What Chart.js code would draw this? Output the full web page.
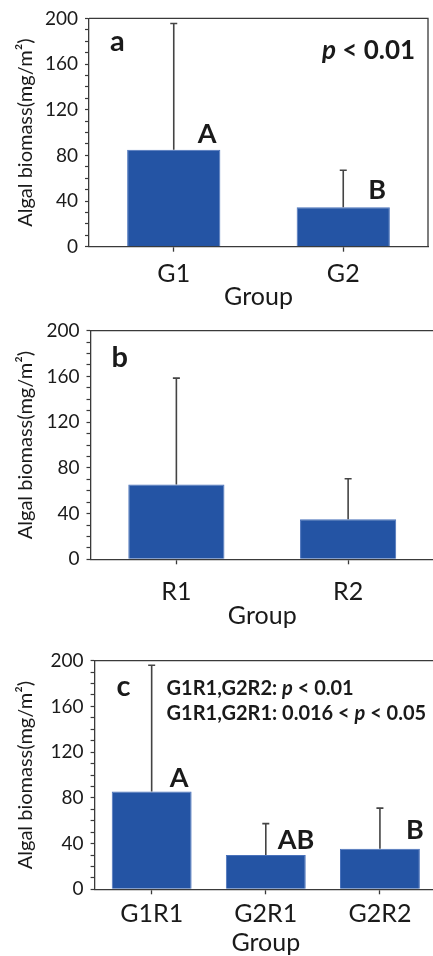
<!DOCTYPE html>
<html>
<head>
<meta charset="utf-8">
<script src="https://cdn.jsdelivr.net/npm/chart.js@4.4.0/dist/chart.umd.min.js"></script>
<style>
  html, body { margin: 0; padding: 0; background: #fff; }
  #wrap { position: relative; width: 433px; height: 956px; overflow: hidden; }
  canvas { position: absolute; left: 0; }
</style>
</head>
<body>
<div id="wrap">
  <canvas id="chartA" width="433" height="310" style="top:0px"></canvas>
  <canvas id="chartB" width="440" height="320" style="top:310px"></canvas>
  <canvas id="chartC" width="440" height="326" style="top:630px"></canvas>
</div>
<script>
// dados (média e desvio)
const catsA = ['G1', 'G2'];
const meanA = [85, 34.5];
const sdA = [110.5, 32.5];
const sigA = ['A', 'B'];

const catsB = ['R1', 'R2'];
const meanB = [65.5, 35];
const sdB = [93, 35.5];

const catsC = ['G1R1', 'G2R1', 'G2R2'];
const meanC = [85.5, 30, 35.5];
const sdC = [110.5, 27.5, 35.5];
const sigC = ['A', 'AB', 'B'];

const yMax = 200;
const yStep = 10;      // traços menores
const yLabelStep = 40; // só esses têm número
const yTitle = 'Algal biomass(mg/m²)';
const xTitle = 'Group';

const FONT = 'Lato';
const INK = '#1a1a1a';
const AXIS = '#3a3a3a';
const BAR = '#2454a4';

// barras de erro (só para cima)
const errorBars = {
  id: 'errorBars',
  afterDatasetsDraw(chart, args, opts) {
    const ctx = chart.ctx;
    const y = chart.scales.y;
    const data = chart.data.datasets[0].data;
    ctx.save();
    ctx.strokeStyle = '#444';
    ctx.lineWidth = 1.6;
    chart.getDatasetMeta(0).data.forEach((bar, i) => {
      const top = y.getPixelForValue(data[i] + opts.sd[i]);
      ctx.beginPath();
      ctx.moveTo(bar.x, bar.y);
      ctx.lineTo(bar.x, top);
      ctx.moveTo(bar.x - 3.5, top);
      ctx.lineTo(bar.x + 3.5, top);
      ctx.stroke();
    });
    ctx.restore();
  }
};

// moldura: linha de cima e da direita
const frame = {
  id: 'frame',
  afterDraw(chart) {
    const a = chart.chartArea;
    const ctx = chart.ctx;
    ctx.save();
    ctx.strokeStyle = AXIS;
    ctx.lineWidth = 1.3;
    ctx.beginPath();
    ctx.moveTo(a.left, a.top);
    ctx.lineTo(a.right, a.top);
    ctx.lineTo(a.right, a.bottom);
    ctx.stroke();
    ctx.restore();
  }
};

// textos: letra do painel, valores de p, letras de significância
const notes = {
  id: 'notes',
  afterDraw(chart, args, opts) {
    const ctx = chart.ctx;
    const a = chart.chartArea;
    const bars = chart.getDatasetMeta(0).data;
    ctx.save();
    ctx.fillStyle = INK;
    ctx.textBaseline = 'alphabetic';
    ctx.textAlign = 'left';
    (opts.items || []).forEach(n => {
      let x, y;
      if (n.bar !== undefined) {
        x = bars[n.bar].x + n.dx;
        y = bars[n.bar].y - n.dy;
      } else {
        x = a.left + n.dx;
        y = a.top + n.dy;
      }
      n.parts.forEach(([t, italic]) => {
        ctx.font = (italic ? 'italic ' : '') + 'bold ' + n.size + 'px ' + FONT;
        ctx.fillText(t, x, y);
        x += ctx.measureText(t).width;
      });
    });
    ctx.restore();
  }
};

function sigItems(letters, offsets) {
  return letters.map((t, i) => ({ parts: [[t, false]], size: 27, bar: i, dx: offsets[i][0], dy: offsets[i][1] }));
}

function makePanel(id, cats, means, sds, cfg) {
  const canvas = document.getElementById(id);
  const W = canvas.width, H = canvas.height;
  return new Chart(canvas, {
    type: 'bar',
    data: {
      labels: cats,
      datasets: [{
        data: means,
        backgroundColor: BAR,
        borderColor: '#4a72bb',
        borderWidth: 1,
        barPercentage: cfg.barPct,
        categoryPercentage: 1
      }]
    },
    options: {
      responsive: false,
      animation: false,
      layout: { padding: { top: cfg.area.top, right: W - cfg.area.right, left: 0, bottom: 0 } },
      plugins: {
        legend: { display: false },
        tooltip: { enabled: false },
        errorBars: { sd: sds },
        notes: { items: cfg.notes }
      },
      scales: {
        x: {
          offset: true,
          grid: { offset: false, drawOnChartArea: false, drawTicks: true, tickLength: 5, tickColor: AXIS, tickWidth: 1.3 },
          border: { display: true, color: AXIS, width: 1.3 },
          ticks: { color: INK, font: { family: FONT, size: 25 }, padding: cfg.xPad, autoSkip: false, maxRotation: 0 },
          title: { display: true, text: xTitle, color: INK, font: { family: FONT, size: 25, lineHeight: 1 }, padding: { top: 0, bottom: cfg.titlePad } },
          afterFit: s => { s.height = H - cfg.area.bottom; }
        },
        y: {
          min: 0,
          max: yMax,
          grid: { drawOnChartArea: false, drawTicks: true, tickLength: 4, tickColor: AXIS, tickWidth: 1.2 },
          border: { display: true, color: AXIS, width: 1.3 },
          ticks: {
            stepSize: yStep,
            autoSkip: false,
            color: INK,
            font: { family: FONT, size: 19 },
            padding: 7,
            callback: v => (v % yLabelStep === 0 ? v : '')
          },
          title: { display: true, text: yTitle, color: INK, font: { family: FONT, size: 20 }, padding: { top: 14, bottom: 0 } },
          afterFit: s => { s.width = cfg.area.left; }
        }
      }
    },
    plugins: [errorBars, frame, notes]
  });
}

const chartA = makePanel('chartA', catsA, meanA, sdA, {
  area: { left: 89, right: 428, top: 17.5, bottom: 246.7 },
  barPct: 0.55, xPad: 7, titlePad: 1,
  notes: [
    { parts: [['a', false]], size: 29, dx: 21, dy: 32.5 },
    { parts: [['p', true], [' < 0.01', false]], size: 26, dx: 233, dy: 41 }
  ].concat(sigItems(sigA, [[24, 7], [25, 8]]))
});

const chartB = makePanel('chartB', catsB, meanB, sdB, {
  area: { left: 90.5, right: 434, top: 20.7, bottom: 249.3 },
  barPct: 0.56, xPad: 12.5, titlePad: 1.5,
  notes: [
    { parts: [['b', false]], size: 29, dx: 21, dy: 36 }
  ]
});

const chartC = makePanel('chartC', catsC, meanC, sdC, {
  area: { left: 94.6, right: 437, top: 30.7, bottom: 259.3 },
  barPct: 0.7, xPad: 5, titlePad: 0.5,
  notes: [
    { parts: [['c', false]], size: 29, dx: 22, dy: 35.3 },
    { parts: [['G1R1,G2R2: ', false], ['p', true], [' < 0.01', false]], size: 20, dx: 72, dy: 34.3 },
    { parts: [['G1R1,G2R1: 0.016 < ', false], ['p', true], [' < 0.05', false]], size: 20, dx: 72, dy: 58.8 }
  ].concat(sigItems(sigC, [[18, 5], [12, 6], [26, 10]]))
});
</script>
</body>
</html>
